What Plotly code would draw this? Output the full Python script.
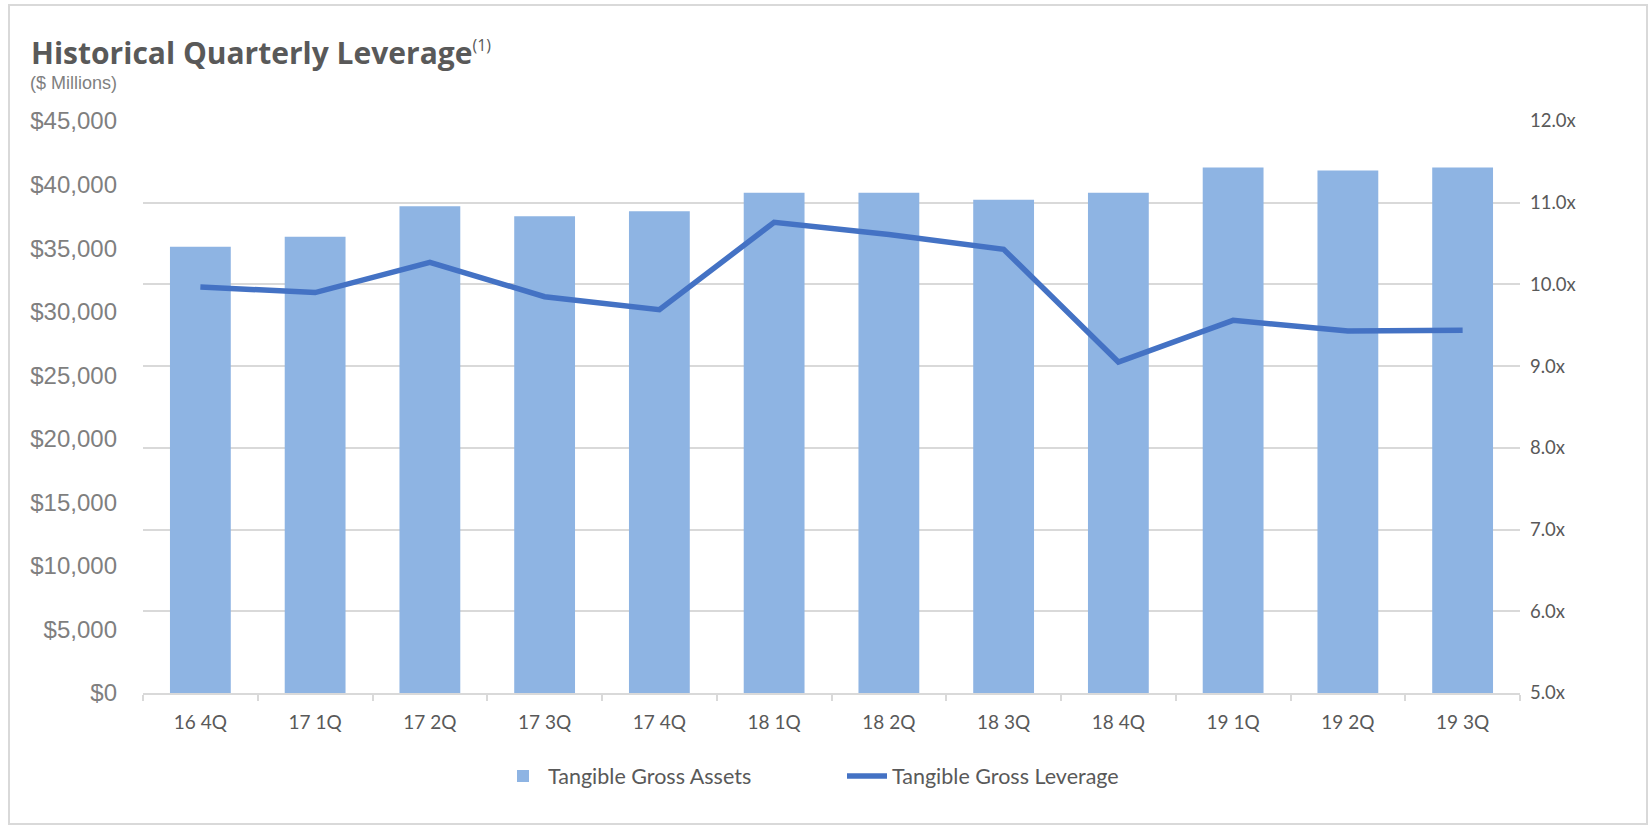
import plotly.graph_objects as go

categories = ["16 4Q", "17 1Q", "17 2Q", "17 3Q", "17 4Q", "18 1Q",
              "18 2Q", "18 3Q", "18 4Q", "19 1Q", "19 2Q", "19 3Q"]
tangible_gross_assets = [35100, 35900, 38300, 37500, 37900, 39350,
                         39350, 38800, 39350, 41350, 41100, 41350]
tangible_gross_leverage = [9.97, 9.90, 10.27, 9.85, 9.69, 10.76,
                           10.61, 10.43, 9.05, 9.56, 9.43, 9.44]
left_tick_values = [0, 5000, 10000, 15000, 20000, 25000, 30000, 35000, 40000, 45000]
left_tick_labels = ["$0", "$5,000", "$10,000", "$15,000", "$20,000", "$25,000",
                    "$30,000", "$35,000", "$40,000", "$45,000"]
right_tick_values = [5, 6, 7, 8, 9, 10, 11, 12]
right_tick_labels = ["5.0x", "6.0x", "7.0x", "8.0x", "9.0x", "10.0x", "11.0x", "12.0x"]

W, H = 1652, 828
ML, MR, MT, MB = 143, 132, 121, 135
PW, PH = W - ML - MR, H - MT - MB


def px_x(x):
    return (x - ML) / PW


def px_y(y):
    return (H - MB - y) / PH


fig = go.Figure()
fig.add_trace(go.Bar(
    x=categories, y=tangible_gross_assets, name="Tangible Gross Assets",
    marker=dict(color="#8EB4E3", line=dict(width=0)), yaxis="y",
))
fig.add_trace(go.Scatter(
    x=categories, y=tangible_gross_leverage, name="Tangible Gross Leverage",
    mode="lines", line=dict(color="#4472C4", width=5.5), yaxis="y2",
))

fig.update_layout(
    width=W, height=H,
    margin=dict(l=ML, r=MR, t=MT, b=MB, pad=0),
    paper_bgcolor="white", plot_bgcolor="white",
    bargap=0.47,
    showlegend=True,
    legend=dict(orientation="h", x=px_x(498), xanchor="left", y=px_y(776), yanchor="middle",
                font=dict(family="Lato", size=21.5, color="#595959"),
                entrywidth=289, itemwidth=40, traceorder="normal"),
    xaxis=dict(
        type="category", showline=True, linecolor="#D9D9D9", linewidth=2,
        ticks="outside", tickson="boundaries", ticklen=6, tickcolor="#D9D9D9", tickwidth=2,
        showgrid=False, tickfont=dict(family="Lato", size=19, color="#595959"),
        ticklabelstandoff=11, range=[-0.5, 11.5],
    ),
    yaxis=dict(
        range=[0, 45000], tickvals=left_tick_values, ticktext=left_tick_labels,
        showgrid=False, zeroline=False, showline=False, ticks="",
        tickfont=dict(family="Liberation Sans", size=24, color="#7F7F7F"),
        ticklabelstandoff=25,
    ),
    yaxis2=dict(
        range=[5, 12], tickvals=right_tick_values, ticktext=right_tick_labels,
        overlaying="y", side="right", showgrid=True, gridcolor="#D9D9D9", gridwidth=2,
        zeroline=False, showline=False, ticks="",
        tickfont=dict(family="Lato", size=18.5, color="#595959"),
        ticklabelstandoff=9,
    ),
    annotations=[
        dict(text="<b>Historical Quarterly Leverage</b><sup><span style='font-size:16px'>(1)</span></sup>",
             xref="paper", yref="paper",
             x=px_x(29), y=px_y(53), xanchor="left", yanchor="middle", showarrow=False,
             font=dict(family="Open Sans", size=30, color="#595959")),
        dict(text="($ Millions)", xref="paper", yref="paper",
             x=px_x(28), y=px_y(82.5), xanchor="left", yanchor="middle", showarrow=False,
             font=dict(family="Liberation Sans", size=18, color="#7F7F7F")),
    ],
    shapes=[
        dict(type="rect", xref="paper", yref="paper", x0=px_x(9), x1=px_x(W - 5),
             y0=px_y(H - 4), y1=px_y(5), line=dict(color="#D9D9D9", width=2),
             fillcolor="rgba(0,0,0,0)", layer="below"),
    ],
)

fig.write_html("out.html", config={"displayModeBar": False},
               post_script="document.body.style.margin='0';")
